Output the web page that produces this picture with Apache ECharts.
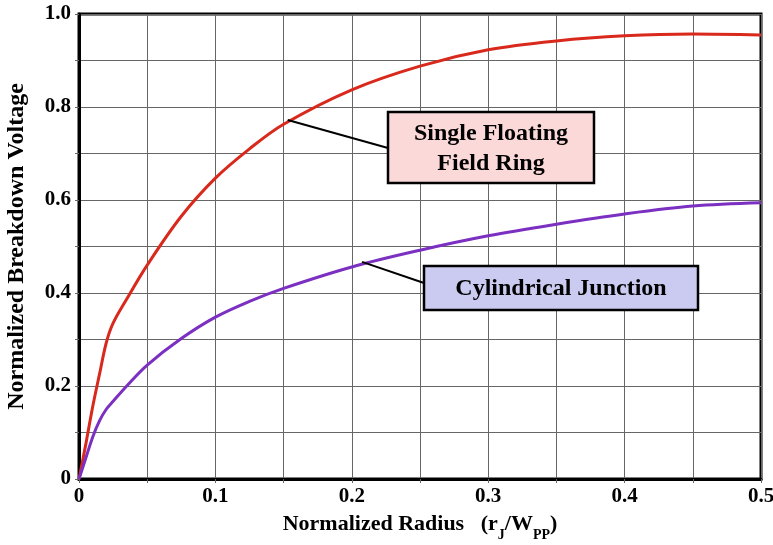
<!DOCTYPE html>
<html><head><meta charset="utf-8">
<script src="https://cdn.jsdelivr.net/npm/echarts@6/dist/echarts.min.js"></script>
<style>html,body{margin:0;padding:0;background:#fff}#c{width:773px;height:545px}</style>
</head><body><div id="c"></div>
<script>
const xValues = [0, 0.005, 0.01, 0.015, 0.02, 0.025, 0.035, 0.05, 0.075, 0.1, 0.125, 0.15, 0.2, 0.25, 0.3, 0.35, 0.4, 0.45, 0.5];
const ringValues = [0, 0.075, 0.155, 0.225, 0.293, 0.335, 0.387, 0.46, 0.565, 0.647, 0.71, 0.763, 0.837, 0.888, 0.923, 0.942, 0.953, 0.957, 0.955];
const cylValues = [0, 0.045, 0.09, 0.125, 0.15, 0.167, 0.2, 0.245, 0.302, 0.348, 0.382, 0.41, 0.456, 0.492, 0.523, 0.548, 0.570, 0.587, 0.594];
const seriesNames = ['Single Floating\nField Ring', 'Cylindrical Junction'];
const xTickLabels = ['0', '0.1', '0.2', '0.3', '0.4', '0.5'];
const yTickLabels = ['0', '0.2', '0.4', '0.6', '0.8', '1.0'];

const FONT = 'Liberation Serif';
const chart = echarts.init(document.getElementById('c'));
function pairs(ys){ return xValues.map((x,i)=>[x, ys[i]]); }
function near(v, step){ const k = Math.round(v/step); return Math.abs(v - k*step) < 1e-6 ? k : -1; }

chart.setOption({
  animation: false,
  backgroundColor: '#fff',
  grid: {left: 79, right: 12, top: 14, bottom: 66, containLabel: false, outerBoundsMode: 'none',
         show: true, borderColor: '#000', borderWidth: 3, backgroundColor: 'transparent'},
  xAxis: {
    type: 'value', min: 0, max: 0.5, interval: 0.05,
    axisLine: {lineStyle: {color: '#000', width: 3}},
    axisTick: {show: true, length: 4, lineStyle: {color: '#666', width: 1}},
    splitLine: {show: true, lineStyle: {color: '#666', width: 1}},
    axisLabel: {
      margin: 7, color: '#000', fontFamily: FONT, fontWeight: 'bold', fontSize: 21,
      formatter: v => { const k = near(v, 0.1); return k >= 0 ? xTickLabels[k] : ''; }
    },
    name: '{a|Normalized Radius   (r}{s|J}{a|/W}{s|PP}{a|)}',
    nameLocation: 'middle', nameGap: 34,
    nameTextStyle: {rich: {
      a: {fontFamily: FONT, fontWeight: 'bold', fontSize: 22, color: '#000'},
      s: {fontFamily: FONT, fontWeight: 'bold', fontSize: 14, color: '#000', verticalAlign: 'bottom', padding: [0,0,-7,0]}
    }}
  },
  yAxis: {
    type: 'value', min: 0, max: 1, interval: 0.1,
    axisLine: {show: true, lineStyle: {color: '#000', width: 3}},
    axisTick: {show: true, length: 4, lineStyle: {color: '#666', width: 1}},
    splitLine: {show: true, lineStyle: {color: '#666', width: 1}},
    axisLabel: {
      margin: 8, color: '#000', fontFamily: FONT, fontWeight: 'bold', fontSize: 21,
      formatter: v => { const k = near(v, 0.2); return k >= 0 ? yTickLabels[k] : ''; }
    },
    name: 'Normalized Breakdown Voltage', nameLocation: 'middle', nameGap: 50,
    nameTextStyle: {fontFamily: FONT, fontWeight: 'bold', fontSize: 24, color: '#000'}
  },
  series: [
    {name: seriesNames[0], type: 'line', data: pairs(ringValues), smooth: 0.35, showSymbol: false,
     lineStyle: {color: '#d8291c', width: 3}},
    {name: seriesNames[1], type: 'line', data: pairs(cylValues), smooth: 0.35, showSymbol: false,
     lineStyle: {color: '#7b30c2', width: 3}}
  ]
});

// annotations: callout boxes with leader lines to points on the curves
const p1 = chart.convertToPixel({gridIndex: 0}, [0.153, 0.772]);
const p2 = chart.convertToPixel({gridIndex: 0}, [0.2075, 0.467]);
const box1 = {x: 388, y: 112, w: 206, h: 71};
const box2 = {x: 424, y: 266, w: 274, h: 44};
chart.setOption({graphic: [
  {type: 'line', shape: {x1: p1[0], y1: p1[1], x2: box1.x, y2: 148}, style: {stroke: '#000', lineWidth: 2}, z: 100},
  {type: 'rect', shape: {x: box1.x, y: box1.y, width: box1.w, height: box1.h}, style: {fill: '#fad9d8', stroke: '#000', lineWidth: 2.5}, z: 100},
  {type: 'text', x: box1.x + box1.w/2, y: box1.y + box1.h/2 + 1, style: {text: seriesNames[0], fill: '#000', font: 'bold 24px ' + FONT, align: 'center', verticalAlign: 'middle', lineHeight: 30}, z: 101},
  {type: 'line', shape: {x1: p2[0], y1: p2[1], x2: box2.x, y2: 283}, style: {stroke: '#000', lineWidth: 2}, z: 100},
  {type: 'rect', shape: {x: box2.x, y: box2.y, width: box2.w, height: box2.h}, style: {fill: '#cbcbf1', stroke: '#000', lineWidth: 2.5}, z: 100},
  {type: 'text', x: box2.x + box2.w/2, y: box2.y + box2.h/2 + 1, style: {text: seriesNames[1], fill: '#000', font: 'bold 24px ' + FONT, align: 'center', verticalAlign: 'middle'}, z: 101}
]});
</script></body></html>
